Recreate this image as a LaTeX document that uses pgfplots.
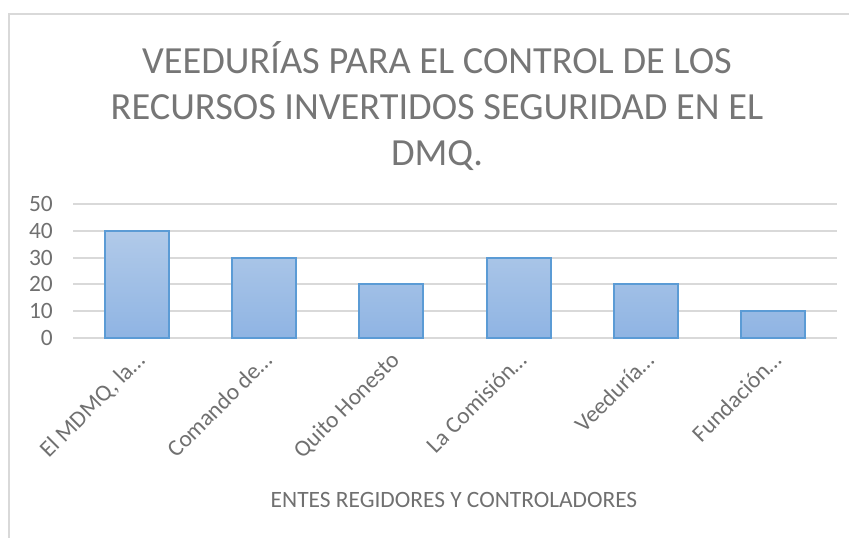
\documentclass[border=0pt]{standalone}
\usepackage{fontspec}
\setmainfont{Carlito}
\usepackage{pgfplots}
\pgfplotsset{compat=1.18}
\definecolor{txt}{RGB}{112,112,112}
\definecolor{ttl}{RGB}{118,118,118}
\definecolor{gridc}{RGB}{217,217,217}
\definecolor{barline}{RGB}{91,155,213}
\definecolor{bartop}{RGB}{177,202,233}
\definecolor{barbot}{RGB}{143,180,227}
\begin{document}
\begin{tikzpicture}[x=1bp,y=1bp]
\useasboundingbox (0,0) rectangle (849,-538);
\draw[gridc, line width=1.2bp] (9,-538) -- (9,-14) -- (849,-14);
\node[ttl, align=center, font=\fontsize{38.5}{46.5}\selectfont] at (437,-106) {VEEDURÍAS PARA EL CONTROL DE LOS\\RECURSOS INVERTIDOS SEGURIDAD EN EL\\DMQ.};
\begin{axis}[
 at={(73bp,-338bp)}, anchor=south west,
 scale only axis, width=764bp, height=134bp,
 xmin=-0.5, xmax=5.5, ymin=0, ymax=50,
 ytick={0,10,...,50},
 xtick={0,...,5},
 xticklabels={{El MDMQ, la…},{Comando de…},{Quito Honesto},{La Comisión…},{Veeduría…},{Fundación…}},
 axis line style={draw=none},
 ymajorgrids, grid style={gridc, line width=2bp},
 major tick length=0pt,
 tick label style={txt, font=\fontsize{23.5}{28}\selectfont},
 /pgf/number format/assume math mode=true,
 yticklabel style={anchor=east, inner sep=0pt, xshift=-20bp},
 xticklabel style={rotate=45, anchor=north east, inner sep=0pt, xshift=-10bp, yshift=-7bp},
 ybar, bar width=64bp,
 clip=false,
]
\addplot[draw=barline, line width=2bp, top color=bartop, bottom color=barbot] coordinates {(0,40) (1,30) (2,20) (3,30) (4,20) (5,10)};
\end{axis}
\node[txt, font=\fontsize{23.5}{28}\selectfont] at (454,-500) {ENTES REGIDORES Y CONTROLADORES};
\end{tikzpicture}
\end{document}
